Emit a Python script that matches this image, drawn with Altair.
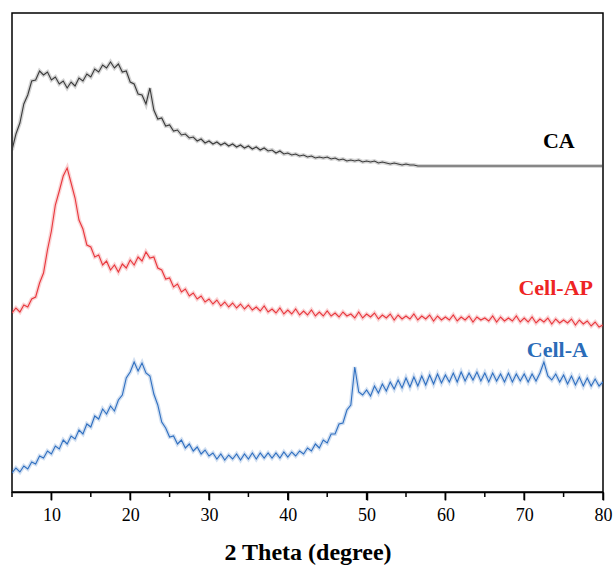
import altair as alt
import numpy as np
import pandas as pd

# 2-theta sampling grid (degrees), 0.5 deg step
two_theta = np.arange(5.0, 80.01, 0.5)

ca = [342, 358, 369, 388, 397, 411, 412, 421, 417, 420,
      412, 415, 408, 411, 404, 410, 406, 414, 411, 418,
      415, 423, 420, 427, 424, 430, 424, 428, 420, 421,
      410, 408, 398, 397, 388, 404, 382, 373, 374, 366,
      367, 361, 362, 357, 358, 354, 355, 351, 353, 349,
      351, 348, 350, 347, 349, 346, 348, 345, 347, 344,
      346, 343, 345, 342, 344, 341, 342, 339, 341, 338,
      339, 337, 338, 336, 337, 335, 336, 334, 335, 334,
      335, 333, 334, 332, 333, 331, 332, 331, 332, 330,
      331, 330, 331, 329, 330, 329, 328, 329, 328, 327,
      328, 327, 327, 326, 326, 326, 326, 326, 326, 326,
      326, 326, 326, 326, 326, 326, 326, 326, 326, 326,
      326, 326, 326, 326, 326, 326, 326, 326, 326, 326,
      326, 326, 326, 326, 326, 326, 326, 326, 326, 326,
      326, 326, 326, 326, 326, 326, 326, 326, 326, 326,
      326]

cell_ap = [179, 184, 180, 187, 185, 193, 195, 209, 219, 242,
           261, 287, 301, 316, 324, 309, 294, 272, 263, 247,
           245, 235, 237, 227, 231, 222, 227, 220, 228, 224,
           232, 227, 235, 231, 240, 234, 235, 224, 222, 213,
           214, 205, 208, 200, 203, 196, 199, 193, 196, 190,
           193, 188, 192, 186, 190, 185, 189, 184, 188, 183,
           187, 182, 185, 181, 186, 180, 183, 179, 184, 178,
           182, 178, 183, 177, 181, 177, 182, 176, 180, 176,
           181, 176, 179, 175, 180, 176, 178, 174, 180, 174,
           178, 175, 179, 173, 177, 174, 178, 172, 177, 173,
           176, 173, 178, 172, 176, 173, 177, 171, 176, 172,
           175, 172, 177, 171, 175, 172, 176, 170, 175, 172,
           174, 171, 176, 170, 175, 171, 174, 171, 176, 170,
           174, 170, 175, 169, 173, 170, 174, 168, 173, 169,
           172, 169, 173, 167, 172, 168, 171, 166, 170, 165,
           167]

cell_a = [19, 24, 20, 26, 23, 30, 28, 36, 34, 41,
          38, 46, 43, 52, 48, 56, 53, 62, 58, 68,
          65, 76, 73, 83, 78, 86, 81, 92, 97, 114,
          120, 130, 121, 129, 119, 116, 98, 87, 70, 64,
          55, 56, 48, 52, 44, 48, 41, 45, 38, 42,
          36, 39, 33, 38, 32, 37, 33, 38, 32, 38,
          33, 39, 33, 39, 34, 39, 34, 39, 34, 40,
          35, 40, 36, 41, 38, 44, 41, 48, 44, 52,
          49, 58, 58, 68, 69, 82, 87, 125, 100, 97,
          102, 96, 106, 99, 108, 101, 110, 103, 112, 104,
          114, 105, 115, 106, 116, 107, 117, 108, 118, 109,
          117, 110, 119, 110, 120, 111, 119, 112, 120, 111,
          119, 110, 119, 111, 118, 110, 119, 110, 118, 111,
          118, 110, 118, 111, 119, 130, 116, 112, 118, 110,
          117, 108, 116, 107, 115, 106, 114, 106, 113, 106,
          110]

series_names = ["CA", "Cell-AP", "Cell-A"]
line_colors = ["#3a3a3a", "#e8363c", "#2f6fc0"]

label_text = ["CA", "Cell-AP", "Cell-A"]
label_x = [74.4, 74.0, 74.2]
label_y = [351, 204, 142]
label_colors = ["#000000", "#ee2424", "#2b6cb8"]

major_ticks = [10, 20, 30, 40, 50, 60, 70, 80]
minor_ticks = [5, 15, 25, 35, 45, 55, 65, 75]

frames = []
for name, vals in zip(series_names, [ca, cell_ap, cell_a]):
    frames.append(pd.DataFrame({"theta": two_theta, "intensity": vals, "series": name}))
df = pd.concat(frames, ignore_index=True)

labels_df = pd.DataFrame({"theta": label_x, "intensity": label_y,
                          "text": label_text, "color": label_colors})
minor_df = pd.DataFrame({"theta": minor_ticks})
major_df = pd.DataFrame({"theta": major_ticks})

x_scale = alt.Scale(domain=[5, 80], nice=False, zero=False)
y_scale = alt.Scale(domain=[0, 479], nice=False, zero=False)
color_scale = alt.Scale(domain=series_names, range=line_colors)

x_axis = alt.Axis(
    title="2 Theta (degree)",
    values=major_ticks,
    format="d",
    tickSize=8,
    grid=False,
    labelFlush=False,
    labelOverlap=False,
    labelFont="Liberation Serif",
    labelFontSize=18,
    labelColor="black",
    labelPadding=6,
    titleFont="Liberation Serif",
    titleFontSize=24,
    titleFontWeight="bold",
    titleColor="black",
    titlePadding=16,
    domainColor="black",
    domainWidth=1.5,
    tickColor="black",
    tickWidth=1.5,
)

base = alt.Chart(df).encode(
    x=alt.X("theta:Q", scale=x_scale, axis=x_axis),
    y=alt.Y("intensity:Q", scale=y_scale, axis=None),
    color=alt.Color("series:N", scale=color_scale, legend=None),
    detail="series:N",
    order="theta:Q",
)

halo = base.mark_line(strokeWidth=4, opacity=0.22, clip=True)
lines = base.mark_line(strokeWidth=1.1, clip=True)

minor = alt.Chart(minor_df).mark_rule(color="black", strokeWidth=1.5).encode(
    x=alt.X("theta:Q", scale=x_scale),
    y=alt.value(479),
    y2=alt.value(484),
)

major = alt.Chart(major_df).mark_rule(color="black", strokeWidth=1.5).encode(
    x=alt.X("theta:Q", scale=x_scale),
    y=alt.value(479),
    y2=alt.value(487),
)

texts = alt.Chart(labels_df).mark_text(
    font="Liberation Serif", fontSize=22, fontWeight="bold", align="center", baseline="middle"
).encode(
    x=alt.X("theta:Q", scale=x_scale),
    y=alt.Y("intensity:Q", scale=y_scale),
    text="text:N",
    color=alt.Color("color:N", scale=None),
)

chart = alt.layer(halo, lines, minor, major, texts).properties(
    width=591,
    height=479,
    autosize=alt.AutoSizeParams(type="none"),
    padding={"left": 12, "top": 13, "right": 10, "bottom": 73},
    background="white",
).configure_view(stroke="black", strokeWidth=1.5)

chart.save("out.html", embed_options={"renderer": "svg", "actions": False})
